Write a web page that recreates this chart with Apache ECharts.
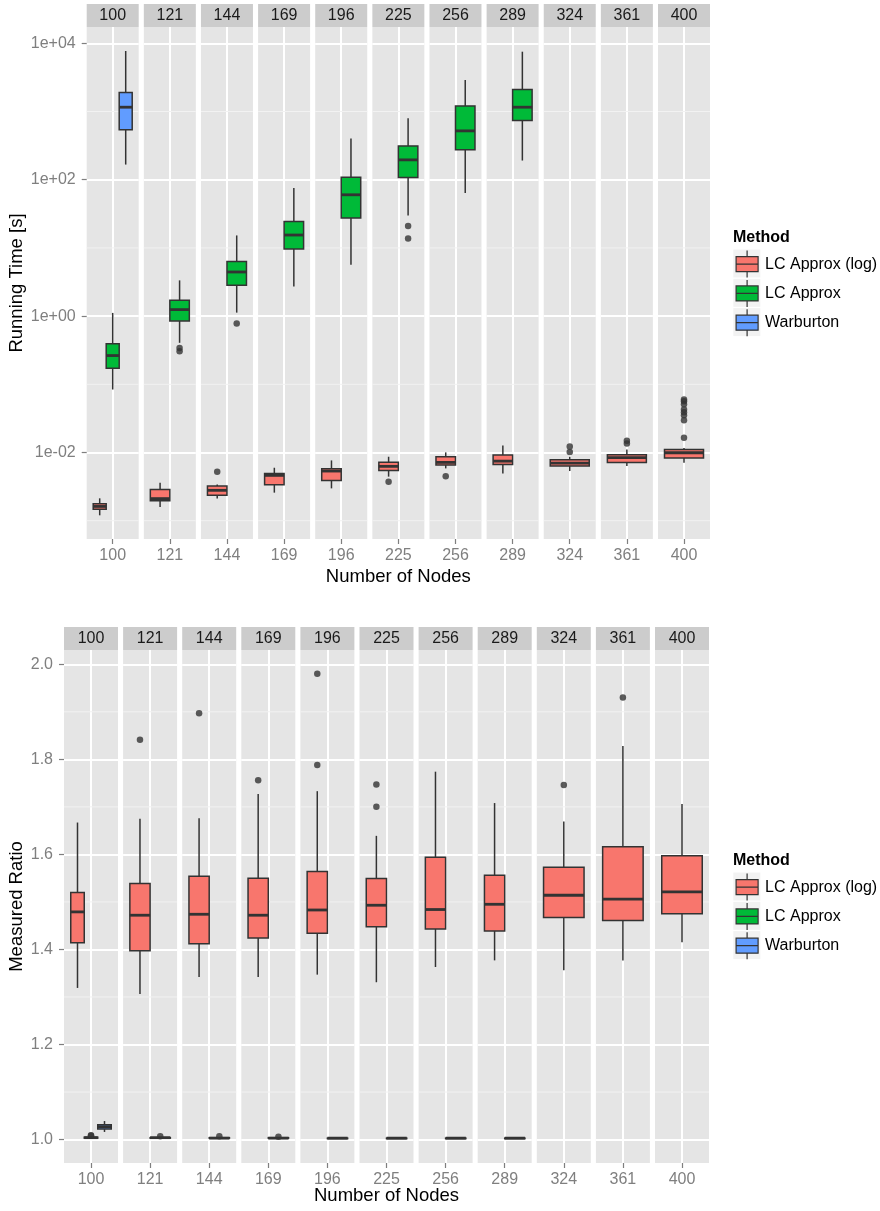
<!DOCTYPE html>
<html><head><meta charset="utf-8">
<script src="https://cdn.jsdelivr.net/npm/echarts@6/dist/echarts.min.js"></script>
<style>html,body{margin:0;padding:0;background:#fff}#c{width:880px;height:1211px}</style>
</head><body><div id="c"></div>
<script>
// ---------------- data ----------------
const nodes = ['100','121','144','169','196','225','256','289','324','361','400'];
const methods = ['LC Approx (log)','LC Approx','Warburton'];
const methodColors = ['#F8766D','#00BA38','#619CFF'];

// Running time [s] : [min, q1, median, q3, max] per node count
const timeLcLog = [
  [0.00120,0.00147,0.00162,0.00178,0.00213],
  [0.00159,0.00197,0.00211,0.00288,0.00361],
  [0.00211,0.00236,0.00279,0.00322,0.00341],
  [0.00258,0.00338,0.00462,0.00494,0.00598],
  [0.00298,0.00390,0.00535,0.00579,0.00766],
  [0.00443,0.00547,0.00627,0.00723,0.00867],
  [0.00585,0.00655,0.00716,0.00867,0.01005],
  [0.00494,0.00670,0.00748,0.00916,0.0127],
  [0.00535,0.00632,0.00700,0.00785,0.00867],
  [0.00632,0.00716,0.00839,0.00929,0.0111],
  [0.00710,0.00828,0.00993,0.0111,0.0116]
];
const timeLcLogOut = [[],[],[0.00524],[],[],[0.00374],[0.00447],[],[0.01014,0.01227],[0.01358,0.01489],
  [0.0165,0.0298,0.0353,0.0391,0.0428,0.0512,0.0566,0.0600]];
const timeLcApprox = [
  [0.0839,0.172,0.264,0.392,1.114],
  [0.406,0.851,1.245,1.702,3.342],
  [1.125,2.825,4.436,6.339,15.24],
  [2.729,9.64,15.45,24.43,75.3],
  [5.675,27.42,60.1,109.1,400.9],
  [29.92,107.6,195.4,313.3,798],
  [63.7,274.2,520,1208,2904],
  [191,736,1156,2094,7534],
  null,null,null
];
const timeLcApproxOut = [[],[0.305,0.340],[0.776],[],[],[13.77,20.94],[],[],[],[],[]];
const timeWarburton = [[166.7,538,1156,1892,7709],null,null,null,null,null,null,null,null,null,null];
const timeWarburtonOut = [[],[],[],[],[],[],[],[],[],[],[]];

// Measured ratio : [min, q1, median, q3, max]
const ratioLcLog = [
  [1.319,1.414,1.479,1.520,1.667],
  [1.306,1.397,1.472,1.539,1.675],
  [1.342,1.412,1.474,1.554,1.676],
  [1.342,1.424,1.472,1.550,1.727],
  [1.347,1.434,1.483,1.564,1.733],
  [1.331,1.448,1.493,1.549,1.639],
  [1.363,1.443,1.484,1.594,1.774],
  [1.377,1.439,1.495,1.556,1.708],
  [1.356,1.467,1.514,1.573,1.669],
  [1.377,1.461,1.506,1.616,1.828],
  [1.415,1.475,1.521,1.597,1.706]
];
const ratioLcLogOut = [[],[1.841],[1.897],[1.756],[1.788,1.980],[1.700,1.747],[],[],[1.746],[1.930],[]];
const ratioLcApprox = [
  [1.001,1.003,1.004,1.005,1.007],
  [1.002,1.003,1.004,1.004,1.005],
  [1.002,1.003,1.003,1.004,1.005],
  [1.002,1.003,1.003,1.004,1.005],
  [1.002,1.003,1.003,1.003,1.004],
  [1.002,1.003,1.003,1.003,1.004],
  [1.002,1.003,1.003,1.003,1.004],
  [1.002,1.003,1.003,1.003,1.004],
  null,null,null
];
const ratioLcApproxOut = [[1.008,1.009],[1.007],[1.007],[1.006],[],[],[],[],[],[],[]];
const ratioWarburton = [[1.016,1.022,1.027,1.031,1.039],null,null,null,null,null,null,null,null,null,null];
const ratioWarburtonOut = [[],[],[],[],[],[],[],[],[],[],[]];

// axis ticks
const timeTicks = [0.01, 1, 100, 10000];
const timeTickLabels = ['1e-02','1e+00','1e+02','1e+04'];
const timeMinor = [0.001, 0.1, 10, 1000];
const ratioTicks = [1.0, 1.2, 1.4, 1.6, 1.8, 2.0];
const ratioMinor = [1.1, 1.3, 1.5, 1.7, 1.9];

// ---------------- layout / style ----------------
const FONT = '"Liberation Sans", Arial, Helvetica, sans-serif';
const GREY = '#7F7F7F';
const panels = [
  {x0: 86.7, step: 57.13, w: 52, y: 27, h: 512, yType: 'log', yMin: Math.pow(10, -3.268), yMax: Math.pow(10, 4.239),
   ticks: timeTicks, fmt: v => timeTickLabels[timeTicks.findIndex(t => Math.abs(Math.log10(t) - Math.log10(v)) < 0.01)] || '',
   minor: timeMinor, yName: 'Running Time [s]', nameGap: 55, legendTop: 249.5, titleY: 577,
   sets: [
     {name: methods[0], color: methodColors[0], box: timeLcLog, out: timeLcLogOut},
     {name: methods[1], color: methodColors[1], box: timeLcApprox, out: timeLcApproxOut},
     {name: methods[2], color: methodColors[2], box: timeWarburton, out: timeWarburtonOut}
   ]},
  {x0: 64, step: 59.1, w: 54, y: 650, h: 513, yType: 'value', yMin: 0.9507, yMax: 2.030,
   ticks: ratioTicks, fmt: v => v.toFixed(1),
   minor: ratioMinor, yName: 'Measured Ratio', nameGap: 33, legendTop: 872.5, titleY: 1196,
   sets: [
     {name: methods[0], color: methodColors[0], box: ratioLcLog, out: ratioLcLogOut},
     {name: methods[1], color: methodColors[1], box: ratioLcApprox, out: ratioLcApproxOut},
     {name: methods[2], color: methodColors[2], box: ratioWarburton, out: ratioWarburtonOut}
   ]}
];

function renderBox(params, api) {
  const xc = api.value(0), bw = api.value(1);
  const color = api.visual('color');
  const pMin = api.coord([xc, api.value(2)]);
  const pQ1 = api.coord([xc, api.value(3)]);
  const pMed = api.coord([xc, api.value(4)]);
  const pQ3 = api.coord([xc, api.value(5)]);
  const pMax = api.coord([xc, api.value(6)]);
  const pl = api.coord([xc - bw / 2, api.value(4)])[0];
  const pr = api.coord([xc + bw / 2, api.value(4)])[0];
  const cx = pMed[0];
  const st = {stroke: '#333333', lineWidth: 1.5};
  return {type: 'group', children: [
    {type: 'line', shape: {x1: cx, y1: pMax[1], x2: cx, y2: pQ3[1]}, style: st},
    {type: 'line', shape: {x1: cx, y1: pQ1[1], x2: cx, y2: pMin[1]}, style: st},
    {type: 'rect', shape: {x: pl, y: pQ3[1], width: pr - pl, height: Math.max(pQ1[1] - pQ3[1], 0.5)},
     style: {fill: color, stroke: '#333333', lineWidth: 1.5}},
    {type: 'line', shape: {x1: pl, y1: pMed[1], x2: pr, y2: pMed[1]}, style: {stroke: '#333333', lineWidth: 2.8}}
  ]};
}
function renderMinor(params, api) {
  const cs = params.coordSys;
  const y = api.coord([1, api.value(1)])[1];
  return {type: 'line', shape: {x1: cs.x, y1: y, x2: cs.x + cs.width, y2: y}, style: {stroke: '#F2F2F2', lineWidth: 1}};
}

const grid = [], xAxis = [], yAxis = [], series = [], graphic = [], legend = [];
panels.forEach(P => {
  nodes.forEach((nd, i) => {
    const gi = grid.length;
    const left = P.x0 + P.step * i;
    grid.push({left: left, top: P.y, width: P.w, height: P.h, show: true, backgroundColor: '#E5E5E5', borderWidth: 0});
    xAxis.push({type: 'value', gridIndex: gi, min: 0.4, max: 1.6,
      axisLine: {show: false},
      axisTick: {show: true, customValues: [1], length: 5, lineStyle: {color: GREY, width: 1.2}},
      axisLabel: {customValues: [1], formatter: () => nd, color: GREY, fontSize: 16, fontFamily: FONT, margin: 9},
      splitLine: {show: true, lineStyle: {color: '#FFFFFF', width: 2}}});
    yAxis.push({type: P.yType, logBase: 10, gridIndex: gi, min: P.yMin, max: P.yMax,
      axisLine: {show: false},
      axisTick: {show: i === 0, customValues: P.ticks, length: 5, lineStyle: {color: GREY, width: 1.2}},
      axisLabel: {show: i === 0, customValues: P.ticks, formatter: P.fmt, color: GREY, fontSize: 16, fontFamily: FONT, margin: 11},
      splitLine: {show: true, lineStyle: {color: '#FFFFFF', width: 2}},
      name: i === 0 ? P.yName : '', nameLocation: 'middle', nameRotate: 90, nameGap: P.nameGap,
      nameTextStyle: {fontSize: 18.5, color: '#000', fontFamily: FONT}});
    // minor grid lines
    series.push({type: 'custom', name: 'minor', xAxisIndex: gi, yAxisIndex: gi, silent: true, z: 1,
      encode: {x: 0, y: 1}, data: P.minor.map(v => [1, v]), renderItem: renderMinor});
    // dodged boxes
    const present = P.sets.filter(s => s.box[i]);
    const n = present.length;
    present.forEach((s, k) => {
      const bw = 0.9 / n;
      const xc = 0.55 + (k + 0.5) * bw;
      series.push({type: 'custom', name: s.name, color: s.color, xAxisIndex: gi, yAxisIndex: gi, z: 3, silent: true,
        encode: {x: 0, y: [2, 3, 4, 5, 6]}, data: [[xc, bw].concat(s.box[i])], renderItem: renderBox});
      if (s.out[i].length) {
        series.push({type: 'scatter', name: 'outlier', xAxisIndex: gi, yAxisIndex: gi, z: 4, silent: true,
          symbolSize: 6.5, itemStyle: {color: '#333333'}, data: s.out[i].map(v => [xc, v])});
      }
    });
    // facet strip
    graphic.push({type: 'rect', shape: {x: left, y: P.y - 23, width: P.w, height: 23}, style: {fill: '#CCCCCC'}, silent: true});
    graphic.push({type: 'text', x: left + P.w / 2, y: P.y - 11.5,
      style: {text: nd, fill: '#1A1A1A', font: '16px ' + FONT, align: 'center', verticalAlign: 'middle'}, silent: true});
  });
  // x-axis title
  const mid = P.x0 + (P.step * (nodes.length - 1) + P.w) / 2;
  graphic.push({type: 'text', x: mid, y: P.titleY,
    style: {text: 'Number of Nodes', fill: '#000', font: '18.5px ' + FONT, align: 'center', verticalAlign: 'middle'}, silent: true});
  // legend title + key backgrounds
  graphic.push({type: 'text', x: 733, y: P.legendTop - 12,
    style: {text: 'Method', fill: '#000', font: 'bold 16px ' + FONT, align: 'left', verticalAlign: 'middle'}, silent: true});
  methods.forEach((m, k) => {
    graphic.push({type: 'rect', shape: {x: 733.3, y: P.legendTop + k * 29.3, width: 27, height: 28},
      style: {fill: '#F2F2F2'}, silent: true, z: -10});
  });
  legend.push({orient: 'vertical', left: 735.5, top: P.legendTop + 0.5, padding: 0, itemWidth: 22, itemHeight: 27, itemGap: 1.1,
    selectedMode: false, textStyle: {fontSize: 16, color: '#000', fontFamily: FONT, padding: [0, 0, 0, 2]},
    data: methods.map((m, k) => ({name: m,
      icon: 'path://M11,0L11,6M0,6L22,6L22,21L0,21ZM0,13.5L22,13.5M11,21L11,27',
      itemStyle: {color: methodColors[k], borderColor: '#333333', borderWidth: 1.2}}))});
});

const chart = echarts.init(document.getElementById('c'), null, {renderer: 'canvas'});
chart.setOption({
  animation: false,
  backgroundColor: '#FFFFFF',
  textStyle: {fontFamily: FONT},
  grid, xAxis, yAxis, series, legend, graphic
});
</script></body></html>
